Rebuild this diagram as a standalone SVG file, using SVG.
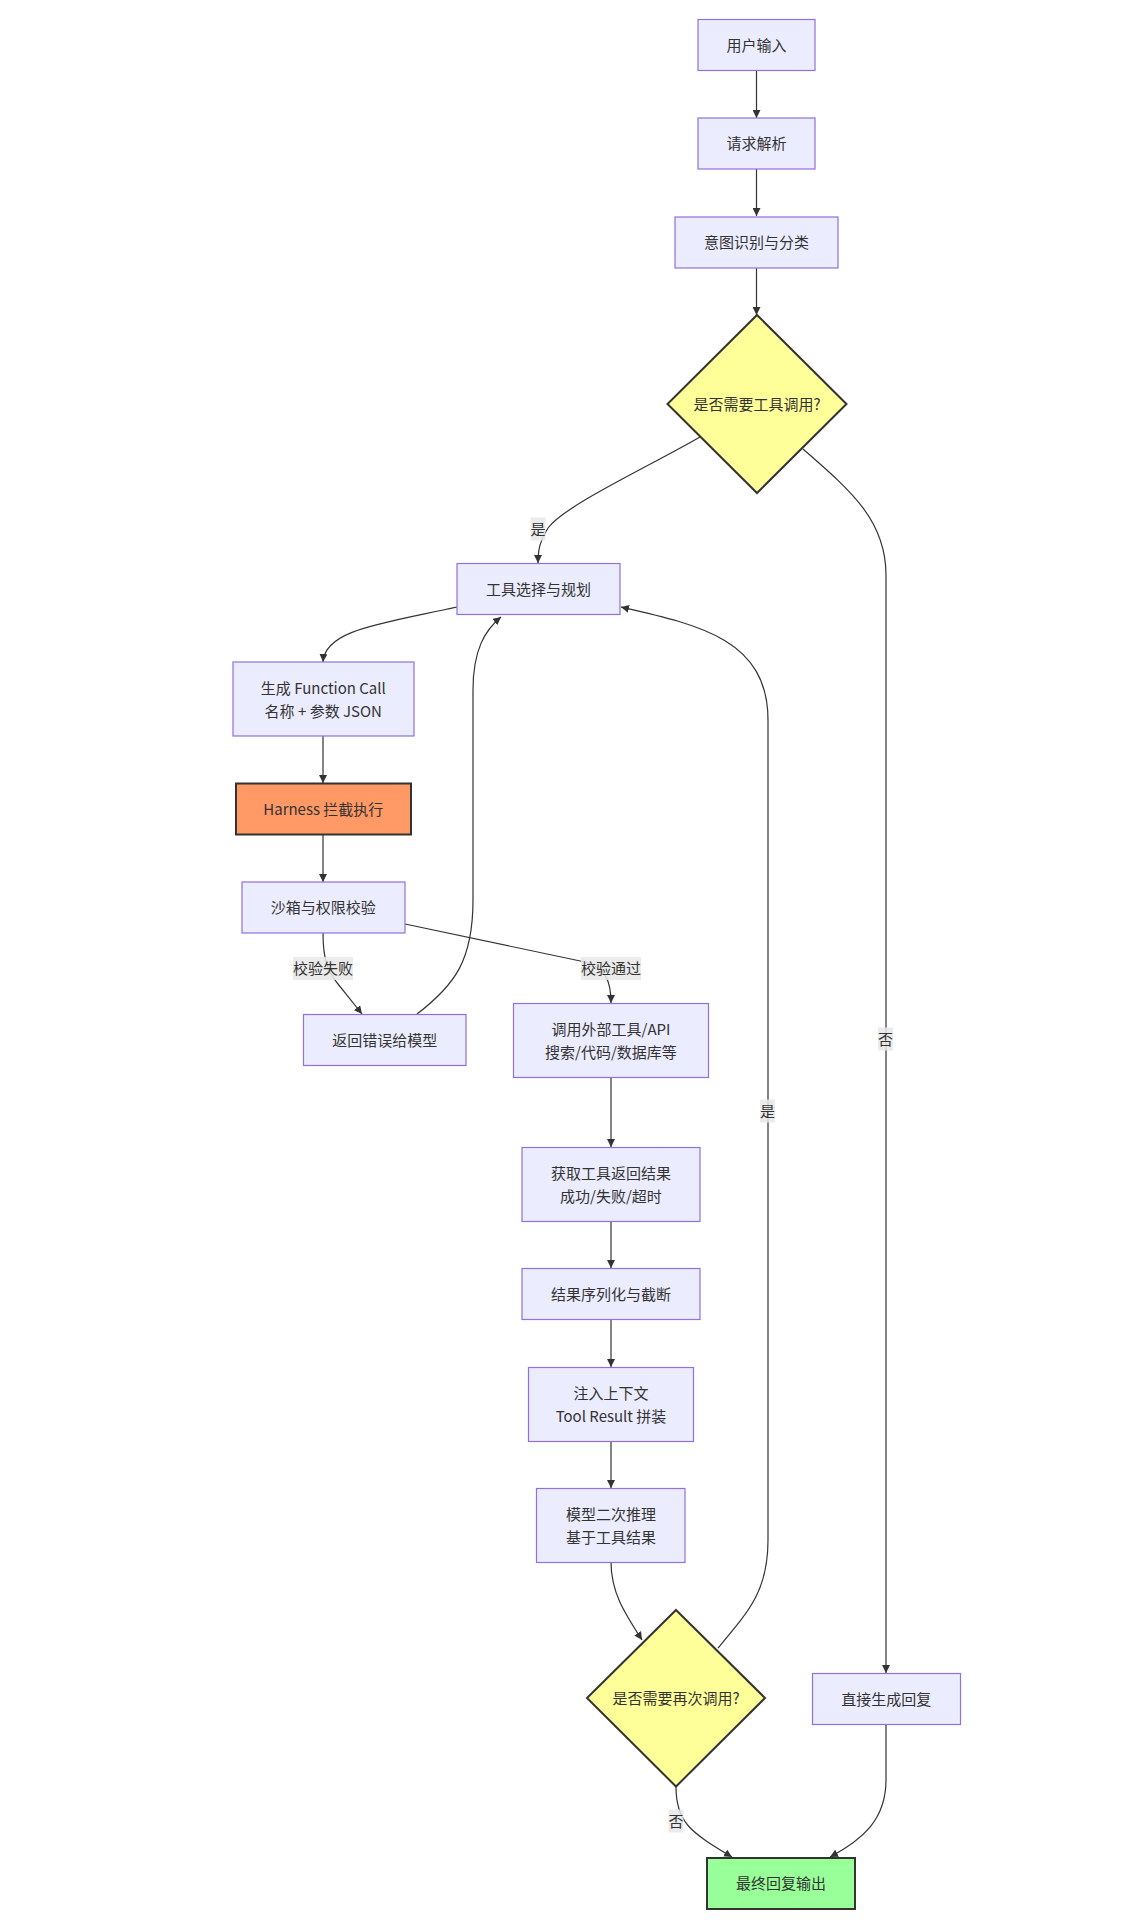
<svg xmlns="http://www.w3.org/2000/svg" width="1143" height="1924" viewBox="0 0 1143 1924">
<style>
.n{fill:#ECECFF;stroke:#9370DB;stroke-width:1.2}
.d{fill:#FFFF99;stroke:#333;stroke-width:2}
.h{fill:#FF9966;stroke:#333;stroke-width:2}
.f{fill:#99FF99;stroke:#333;stroke-width:2}
text{font-family:"Noto Sans CJK SC","Noto Sans",sans-serif;font-size:15px;fill:#333;text-anchor:middle;dominant-baseline:central}
.e{fill:none;stroke:#333;stroke-width:1.2}
.lb{fill:#E8E8E8;opacity:0.85}
</style>
<defs>
<marker id="ah" viewBox="0 0 10 10" refX="10" refY="5" markerWidth="8" markerHeight="8" markerUnits="userSpaceOnUse" orient="auto">
<path d="M0,0 L10,5 L0,10 z" fill="#333"/>
</marker>
</defs>
<rect width="1143" height="1924" fill="#fff"/>
<g id="edges">
<path class="e" d="M756.5,71 L756.5,118" marker-end="url(#ah)"/>
<path class="e" d="M756.5,169 L756.5,216" marker-end="url(#ah)"/>
<path class="e" d="M756.5,268 L756.5,315" marker-end="url(#ah)"/>
<path class="e" d="M700,437 C650,466 565,505 548,528 C540,540 538,550 538,563" marker-end="url(#ah)"/>
<path class="e" d="M803,449 C850,490 886,520 886,575 L886,1673" marker-end="url(#ah)"/>
<path class="e" d="M457,607 C380,624 325,630 323,662" marker-end="url(#ah)"/>
<path class="e" d="M323,736 L323,783" marker-end="url(#ah)"/>
<path class="e" d="M323,835 L323,882" marker-end="url(#ah)"/>
<path class="e" d="M323,933 C323,960 328,972 338,984 L362,1014" marker-end="url(#ah)"/>
<path class="e" d="M405,924 L585,962 C605,968 611,980 611,1003" marker-end="url(#ah)"/>
<path class="e" d="M417,1014 C455,985 473,960 473,900 L473,690 C473,650 485,630 501,617" marker-end="url(#ah)"/>
<path class="e" d="M611,1077 L611,1147" marker-end="url(#ah)"/>
<path class="e" d="M611,1221 L611,1268" marker-end="url(#ah)"/>
<path class="e" d="M611,1320 L611,1367" marker-end="url(#ah)"/>
<path class="e" d="M611,1441 L611,1488" marker-end="url(#ah)"/>
<path class="e" d="M611,1562 C611,1592 624,1612 642,1640" marker-end="url(#ah)"/>
<path class="e" d="M718,1648 C750,1610 768,1590 768,1540 L768,720 C768,640 700,625 621,607" marker-end="url(#ah)"/>
<path class="e" d="M676,1787 C676,1822 690,1832 732,1857" marker-end="url(#ah)"/>
<path class="e" d="M886,1724 L886,1780 C886,1820 862,1840 830,1857" marker-end="url(#ah)"/>
</g>
<g id="edge-labels">
<rect class="lb" x="530.5" y="517.5" width="15" height="23"/><text x="538" y="528">是</text>
<rect class="lb" x="878" y="1027.5" width="15" height="23"/><text x="885.5" y="1038">否</text>
<rect class="lb" x="293" y="957" width="60" height="23"/><text x="323" y="967.5">校验失败</text>
<rect class="lb" x="581" y="957" width="60" height="23"/><text x="611" y="967.5">校验通过</text>
<rect class="lb" x="760" y="1099.5" width="15" height="23"/><text x="767.5" y="1110">是</text>
<rect class="lb" x="668.5" y="1809.5" width="15" height="23"/><text x="676" y="1820">否</text>
</g>
<g id="n1"><rect class="n" x="698" y="19.5" width="117" height="51"/><text x="756.5" y="44">用户输入</text></g>
<g id="n2"><rect class="n" x="698" y="118" width="117" height="51"/><text x="756.5" y="142.5">请求解析</text></g>
<g id="n3"><rect class="n" x="675" y="217" width="163" height="51"/><text x="756.5" y="241.5">意图识别与分类</text></g>
<g id="d1"><polygon class="d" points="757,315 846.5,404 757,493 667.5,404"/><text x="757" y="403">是否需要工具调用?</text></g>
<g id="n4"><rect class="n" x="457" y="563.5" width="163" height="51"/><text x="538.5" y="588">工具选择与规划</text></g>
<g id="n5"><rect class="n" x="233" y="662" width="181" height="74"/><text x="323.3" y="687">生成 Function Call</text><text x="323.3" y="710">名称 + 参数 JSON</text></g>
<g id="n6"><rect class="h" x="236" y="783.5" width="175" height="51"/><text x="323.3" y="808">Harness 拦截执行</text></g>
<g id="n7"><rect class="n" x="242" y="882" width="163" height="51"/><text x="323.3" y="906.5">沙箱与权限校验</text></g>
<g id="n8"><rect class="n" x="303.5" y="1014.5" width="162.5" height="51"/><text x="384.7" y="1039">返回错误给模型</text></g>
<g id="n9"><rect class="n" x="513.5" y="1003.5" width="195" height="74"/><text x="611" y="1028">调用外部工具/API</text><text x="611" y="1051">搜索/代码/数据库等</text></g>
<g id="n10"><rect class="n" x="522" y="1147.5" width="178" height="74"/><text x="611" y="1172">获取工具返回结果</text><text x="611" y="1195">成功/失败/超时</text></g>
<g id="n11"><rect class="n" x="522" y="1268.5" width="178" height="51"/><text x="611" y="1293">结果序列化与截断</text></g>
<g id="n12"><rect class="n" x="528.5" y="1367.5" width="165" height="74"/><text x="611" y="1392">注入上下文</text><text x="611" y="1415">Tool Result 拼装</text></g>
<g id="n13"><rect class="n" x="536.5" y="1488.5" width="148.5" height="74"/><text x="611" y="1513">模型二次推理</text><text x="611" y="1536">基于工具结果</text></g>
<g id="d2"><polygon class="d" points="676,1610 765,1698 676,1786.5 587,1698"/><text x="676" y="1697">是否需要再次调用?</text></g>
<g id="n14"><rect class="n" x="812.5" y="1673.5" width="148" height="51"/><text x="886.3" y="1698">直接生成回复</text></g>
<g id="n15"><rect class="f" x="707" y="1858" width="148" height="51"/><text x="781" y="1882.5">最终回复输出</text></g>
</svg>
